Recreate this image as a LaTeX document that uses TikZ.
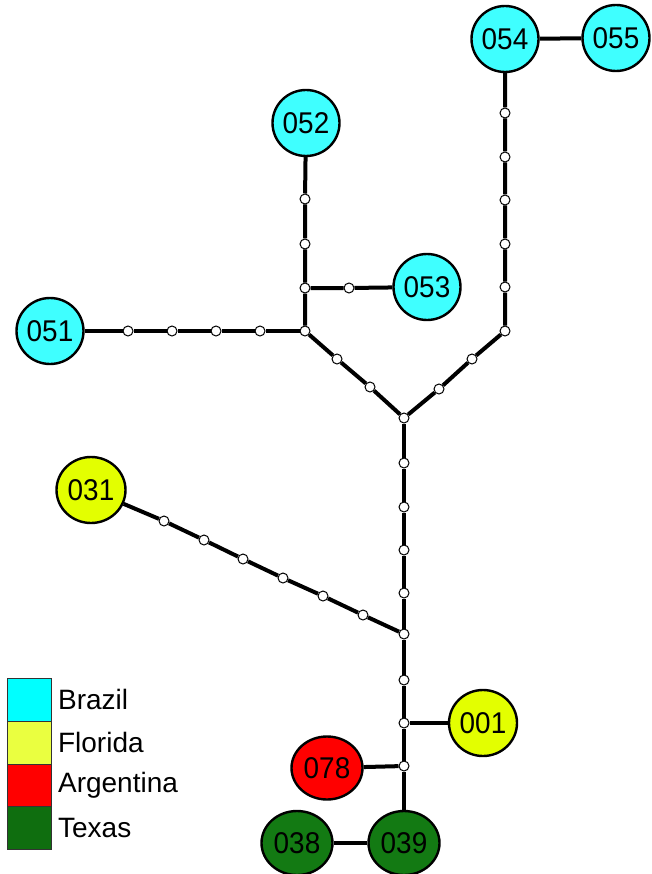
\documentclass[tikz,border=0pt]{standalone}
\usepackage{fontspec}
\setmainfont{Liberation Sans}
\newfontfamily\hapfont[FakeStretch=0.93]{Liberation Sans}
\usetikzlibrary{positioning,shapes.geometric,backgrounds}
\definecolor{brazil}{HTML}{3FFFFF}
\definecolor{florida}{HTML}{E3FF00}
\definecolor{argentina}{HTML}{FF0000}
\definecolor{texas}{HTML}{137A13}
\definecolor{brazilkey}{HTML}{00FFFF}
\definecolor{floridakey}{HTML}{EAFF40}
\definecolor{texaskey}{HTML}{0F6E0F}
\begin{document}
\begin{tikzpicture}[x=1pt,y=-1pt,
	hap/.style={draw, ellipse, line width=2.4pt, inner sep=0, font=\hapfont\fontsize{30}{30}\selectfont},
	mv/.style={draw, circle, fill=white, line width=1pt, minimum size=10pt, inner sep=0},
	link/.style={line width=4pt},
	key/.style={draw=black!80, line width=0.9pt, minimum width=44pt, minimum height=42.75pt, inner sep=0, anchor=north west}]
	\useasboundingbox (0,0) rectangle (652,874);
	\foreach \name/\x/\y/\w/\h/\col in {051/50/331/67/66/brazil, 052/306/123/67/66/brazil, 053/427/287/67/66/brazil, 054/505/39/67/66/brazil, 055/616/38/67/66/brazil, 031/91/490/69/66/florida, 001/483/723/68/66/florida, 078/327/768/71/63/argentina, 039/404/843/71/64/texas, 038/297/843/71/64/texas}
	{
		\node[hap, fill=\col, minimum width=\w pt, minimum height=\h pt] (h\name) at (\x,\y) {\name};
	}
	\foreach \name/\x/\y in {j1/305/331, j2/305/288, j3/505/331, j4/404/418, j5/404/634, j6/404/723, j7/404/766,
		a1/128/331, a2/172/331, a3/216/331, a4/260/331, b1/305/199, b2/305/244, c1/349/288,
		d1/505/113, d2/505/157, d3/505/200, d4/505/244, d5/505/287, e1/337/359, e2/370/387, f1/472/359, f2/439/389,
		g1/404/463, g2/404/507, g3/404/550, g4/404/593, m1/404/680,
		k1/164/521, k2/204/540, k3/243/559, k4/283/578, k5/323/596, k6/363/615}
	{
		\node[mv] (\name) at (\x,\y) {};
	}
	\begin{scope}[on background layer]
		\draw[link] (h051) -- (a1) -- (a2) -- (a3) -- (a4) -- (j1);
		\draw[link] (h052) -- (b1) -- (b2) -- (j2) -- (j1);
		\draw[link] (j2) -- (c1) -- (h053);
		\draw[link] (h055) -- (h054) -- (d1) -- (d2) -- (d3) -- (d4) -- (d5) -- (j3);
		\draw[link] (j1) -- (e1) -- (e2) -- (j4);
		\draw[link] (j3) -- (f1) -- (f2) -- (j4);
		\draw[link] (j4) -- (g1) -- (g2) -- (g3) -- (g4) -- (j5) -- (m1) -- (j6) -- (j7) -- (h039) -- (h038);
		\draw[link] (h031) -- (k1) -- (k2) -- (k3) -- (k4) -- (k5) -- (k6) -- (j5);
		\draw[link] (j6) -- (h001);
		\draw[link] (j7) -- (h078);
	\end{scope}
	\foreach \i/\col/\lab in {0/brazilkey/Brazil, 1/floridakey/Florida, 2/argentina/Argentina, 3/texaskey/Texas}
	{
		\node[key, fill=\col] (key\i) at (7,678+42.75*\i) {};
		\node[right=6pt of key\i, inner sep=0, font=\fontsize{28}{28}\selectfont] (lab\i) {\lab};
	}
\end{tikzpicture}
\end{document}
